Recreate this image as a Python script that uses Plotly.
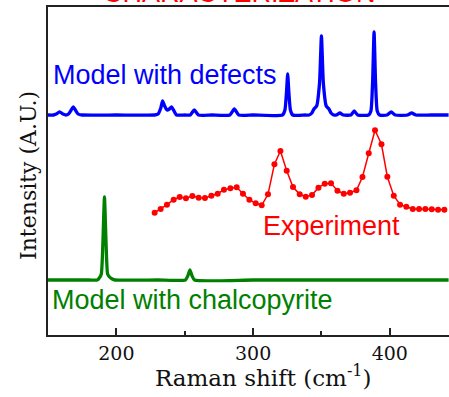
import plotly.graph_objects as go

# ---- data (arbitrary intensity units) ----
defects_x = [150, 154, 156, 158.5, 161, 163, 165, 167, 168.5, 170, 172, 175, 200, 228, 230.5, 232.5, 233.8, 235.3,
             237, 238.8, 240.3, 241.8, 244, 250, 254, 257, 260, 270, 283, 286.3, 289.5, 300, 321.5, 323.3,
             324.4, 325.3, 326.2, 327.3, 329, 338, 341, 343, 344.5, 346.5, 348.6, 350.0, 351.4, 353.5, 355.5,
             357, 359, 361, 363.5, 366, 371.5, 374, 376.5, 384.5, 386.2, 387.4, 388.5, 389.6, 390.8, 392.5,
             398, 401, 404, 413, 416, 419, 430, 443]
defects_y = [0, 0, 1, 3, 1, 0, 1, 5, 8, 5, 1, 0, 0, 0, 1, 7, 14, 9,
             5, 6, 8, 5, 0, 0, 0, 5, 0, 0, 0, 6, 0, 0, 0, 5,
             22, 41, 22, 5, 0, 0, 0, 2, 6, 9, 32, 79, 32, 9, 6,
             2, 0, 0, 2, 0, 0, 4, 0, 0, 4, 32, 83, 32, 4, 0,
             0, 3, 0, 0, 2, 0, 0, 0]

exp_x = [228.0, 232.4, 237.0, 241.9, 246.3, 250.9, 255.6, 260.2, 264.8, 269.5, 274.1, 278.7, 283.4, 288.0,
         292.6, 297.3, 301.9, 306.3, 310.9, 315.6, 320.0, 324.6, 329.2, 334.1, 338.5, 343.1, 347.8, 352.4,
         357.0, 361.7, 366.3, 370.9, 375.6, 380.0, 384.6, 389.2, 393.9, 398.2, 402.9, 407.5, 412.1, 416.8,
         421.4, 426.0, 430.7, 435.3, 439.9]
exp_y = [2.3, 6.0, 10.3, 15.3, 18.0, 16.7, 19.0, 17.3, 17.0, 19.3, 21.3, 25.3, 26.7, 27.7,
         21.3, 15.3, 11.7, 9.7, 20.7, 50.7, 64.0, 44.3, 28.0, 20.7, 18.3, 20.0, 27.3, 31.3,
         31.7, 24.3, 21.3, 22.3, 24.7, 38.0, 61.7, 84.7, 70.7, 38.3, 19.3, 10.3, 8.3, 6.0,
         6.0, 6.0, 5.7, 5.3, 5.3]

chalco_x = [150, 180, 186, 187.5, 189, 190.1, 191.3, 192.5, 193.6, 195, 197, 199, 230, 250.5, 252.2,
            253.8, 255.4, 257.2, 300, 350, 400, 443]
chalco_y = [0, 0, 0, 2, 6, 35, 83, 35, 6, 3, 1, 0, 0, 0, 4,
            10, 4, 0, 0, 0, 0, 0]

offsets = {"defects": 220, "experiment": 120, "chalco": 55}

x_ticks = [200, 300, 400]
labels = {"defects": "Model with defects", "experiment": "Experiment",
          "chalco": "Model with chalcopyrite", "title": "CHARACTERIZATION"}

# ---- figure ----
L, T, W, H = 48, 7, 449, 397
B = 62
pw, ph = W - L, H - T - B


def px(xp):
    return (xp - L) / pw


def py(yp):
    return (H - B - yp) / ph


BLUE, RED, GREEN = "#0000FF", "#FF0000", "#008000"
fig = go.Figure()
fig.add_trace(go.Scatter(x=defects_x, y=[v + offsets["defects"] for v in defects_y], mode="lines",
                         line=dict(color=BLUE, width=3.3, shape="spline", smoothing=0.5), showlegend=False))
fig.add_trace(go.Scatter(x=exp_x, y=[v + offsets["experiment"] for v in exp_y], mode="lines+markers",
                         line=dict(color=RED, width=1.5), marker=dict(color=RED, size=6), showlegend=False))
fig.add_trace(go.Scatter(x=chalco_x, y=[v + offsets["chalco"] for v in chalco_y], mode="lines",
                         line=dict(color=GREEN, width=3.3, shape="spline", smoothing=0.5), showlegend=False))

sans = "Liberation Sans, Arial, sans-serif"
serif = "DejaVu Serif, serif"

ann = [
    dict(text=labels["defects"], x=px(51), y=py(75), xanchor="left", yanchor="middle",
         font=dict(family=sans, size=27, color=BLUE)),
    dict(text=labels["experiment"], x=px(261), y=py(226), xanchor="left", yanchor="middle",
         font=dict(family=sans, size=27, color=RED)),
    dict(text=labels["chalco"], x=px(50), y=py(300), xanchor="left", yanchor="middle",
         font=dict(family=sans, size=27, color=GREEN)),
    dict(text=labels["title"], x=px(239), y=py(10.5), xanchor="center", yanchor="bottom",
         font=dict(family=sans, size=27, color=RED)),
    dict(text="Raman shift (cm<sup>-1</sup>)", x=px(263), y=py(376), xanchor="center", yanchor="middle",
         font=dict(family=serif, size=23, color="#111111")),
    dict(text="Intensity (A.U.)", x=px(28), y=py(176), xanchor="center", yanchor="middle", textangle=-90,
         font=dict(family=serif, size=22, color="#111111")),
]
for a in ann:
    a.update(xref="paper", yref="paper", showarrow=False)

fig.update_layout(
    width=W, height=H, margin=dict(l=L, r=0, t=T, b=B),
    paper_bgcolor="white", plot_bgcolor="white",
    annotations=ann,
    xaxis=dict(range=[150, 443.3], tickvals=x_ticks, ticks="inside", ticklen=7, tickwidth=1.5,
               tickcolor="#222222", showline=True, linecolor="#222222", linewidth=1.5, mirror=True,
               showgrid=False, zeroline=False,
               tickfont=dict(family=serif, size=19, color="#111111"),
               minor=dict(tickvals=[250, 350], ticks="inside", ticklen=4, tickwidth=1.5, tickcolor="#222222")),
    yaxis=dict(range=[0, ph], showticklabels=False, ticks="", showline=True, linecolor="#222222",
               linewidth=1.5, showgrid=False, zeroline=False),
)

fig.write_html("out.html")
